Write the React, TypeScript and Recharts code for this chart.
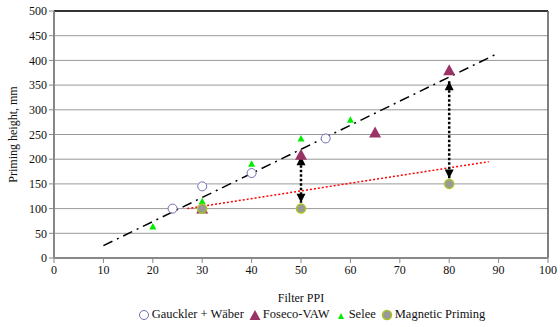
import { ScatterChart, Scatter, XAxis, YAxis, CartesianGrid, ReferenceLine, Legend } from "recharts";

const X_TICKS = [0, 10, 20, 30, 40, 50, 60, 70, 80, 90, 100];
const Y_TICKS = [0, 50, 100, 150, 200, 250, 300, 350, 400, 450, 500];

const gauckler = [
  { x: 24, y: 100 },
  { x: 30, y: 145 },
  { x: 40, y: 172 },
  { x: 55, y: 242 },
];
const foseco = [
  { x: 30, y: 100 },
  { x: 50, y: 209 },
  { x: 65, y: 254 },
  { x: 80, y: 380 },
];
const selee = [
  { x: 20, y: 63 },
  { x: 30, y: 114 },
  { x: 40, y: 190 },
  { x: 50, y: 241 },
  { x: 60, y: 279 },
];
const magnetic = [
  { x: 30, y: 100 },
  { x: 50, y: 100 },
  { x: 80, y: 150 },
];
// trend lines
const filterTrend = [
  { x: 10, y: 25 },
  { x: 90, y: 415 },
];
const magneticTrend = [
  { x: 27, y: 100 },
  { x: 88, y: 195 },
];
// gap arrows
const arrow50 = [
  { x: 50, y: 206 },
  { x: 50, y: 112 },
];
const arrow80 = [
  { x: 80, y: 358 },
  { x: 80, y: 161 },
];

const FONT = '"Liberation Serif", "DejaVu Serif", serif';

const OpenCircle = (p: any) => <circle cx={p.cx} cy={p.cy} r={4.5} fill="#fff" stroke="#7070b4" strokeWidth={1} />;
const BigTri = (p: any) => (
  <path d={`M${p.cx},${p.cy - 6} L${p.cx + 6},${p.cy + 5} L${p.cx - 6},${p.cy + 5} Z`} fill="#993366" />
);
const SmallTri = (p: any) => (
  <path d={`M${p.cx},${p.cy - 4} L${p.cx + 3.5},${p.cy + 2.5} L${p.cx - 3.5},${p.cy + 2.5} Z`} fill="#00ee00" />
);
const GrayDot = (p: any) => <circle cx={p.cx} cy={p.cy} r={4.5} fill="#999" stroke="#a6c520" strokeWidth={1.5} />;
const NoDot = () => <g />;

const arrowHead = (pts: { x: number; y: number }[]) => (p: any) => {
  const top = p.payload.y === Math.max(...pts.map((d) => d.y));
  const s = top ? 1 : -1;
  return (
    <path d={`M${p.cx},${p.cy} L${p.cx + 4.5},${p.cy + 9 * s} L${p.cx - 4.5},${p.cy + 9 * s} Z`} fill="#000" />
  );
};

const YLabel = ({ viewBox }: any) => {
  const cx = 14;
  const cy = viewBox.y + viewBox.height / 2;
  return (
    <text x={cx} y={cy} transform={`rotate(-90 ${cx} ${cy})`} textAnchor="middle" dominantBaseline="middle"
      fontFamily={FONT} fontSize={12} fill="#111">
      Priming height, mm
    </text>
  );
};

const XLabel = ({ viewBox }: any) => (
  <text x={viewBox.x + viewBox.width / 2} y={302} textAnchor="middle" fontFamily={FONT} fontSize={12} fill="#111">
    Filter PPI
  </text>
);

function LegendBox() {
  const item = (icon: React.ReactNode, label: string) => (
    <span style={{ display: "inline-flex", alignItems: "center", marginRight: 5 }}>
      <svg width={12} height={12} style={{ marginRight: 2 }}>{icon}</svg>
      {label}
    </span>
  );
  return (
    <div style={{ fontFamily: FONT, fontSize: 12.5, color: "#111", display: "flex", justifyContent: "center", paddingLeft: 80 }}>
      {item(<circle cx={6} cy={6} r={4.5} fill="#fff" stroke="#7070b4" />, "Gauckler + Wäber")}
      {item(<path d="M6,1 L11.5,11 L0.5,11 Z" fill="#993366" />, "Foseco-VAW")}
      {item(<path d="M6,4 L9,10 L3,10 Z" fill="#00ee00" />, "Selee")}
      {item(<circle cx={6} cy={6} r={4.5} fill="#999" stroke="#a6c520" strokeWidth={1.5} />, "Magnetic Priming")}
    </div>
  );
}

export default function App() {
  return (
    <div style={{ position: "absolute", left: 0, top: 0, width: 560, height: 327, background: "#fff", fontFamily: FONT }}>
      <ScatterChart width={560} height={327} margin={{ top: 11, right: 12, left: 0, bottom: 0 }} style={{ fontFamily: FONT }}>
        <CartesianGrid vertical={false} stroke="#999" strokeWidth={1} />
        <XAxis type="number" dataKey="x" domain={[0, 100]} ticks={X_TICKS} interval={0} height={49}
          axisLine={{ stroke: "#888", strokeWidth: 2 }} tickLine={{ stroke: "#888" }} tickSize={5}
          tick={{ fontFamily: FONT, fontSize: 12, fill: "#111" }} label={<XLabel />} />
        <YAxis type="number" dataKey="y" domain={[0, 500]} ticks={Y_TICKS} interval={0} width={54}
          axisLine={{ stroke: "#888", strokeWidth: 2 }} tickLine={{ stroke: "#888" }} tickSize={5}
          tick={{ fontFamily: FONT, fontSize: 12, fill: "#111" }} label={<YLabel />} />
        <ReferenceLine y={500} stroke="#000" strokeWidth={1.5} />
        <ReferenceLine x={100} stroke="#555" strokeWidth={1.5} />
        <Legend verticalAlign="bottom" height={20} content={<LegendBox />} />
        <Scatter data={filterTrend} line={{ stroke: "#000", strokeWidth: 1.5, strokeDasharray: "10 5 2 5" }}
          shape={NoDot} isAnimationActive={false} legendType="none" />
        <Scatter data={magneticTrend} line={{ stroke: "#ff0000", strokeWidth: 1.5, strokeDasharray: "2 2" }}
          shape={NoDot} isAnimationActive={false} legendType="none" />
        <Scatter data={arrow50} line={{ stroke: "#000", strokeWidth: 2.5, strokeDasharray: "2.5 2" }}
          shape={arrowHead(arrow50)} isAnimationActive={false} legendType="none" />
        <Scatter data={arrow80} line={{ stroke: "#000", strokeWidth: 2.5, strokeDasharray: "2.5 2" }}
          shape={arrowHead(arrow80)} isAnimationActive={false} legendType="none" />
        <Scatter name="Gauckler + Wäber" data={gauckler} shape={OpenCircle} isAnimationActive={false} />
        <Scatter name="Foseco-VAW" data={foseco} shape={BigTri} isAnimationActive={false} />
        <Scatter name="Selee" data={selee} shape={SmallTri} isAnimationActive={false} />
        <Scatter name="Magnetic Priming" data={magnetic} shape={GrayDot} isAnimationActive={false} />
      </ScatterChart>
    </div>
  );
}
